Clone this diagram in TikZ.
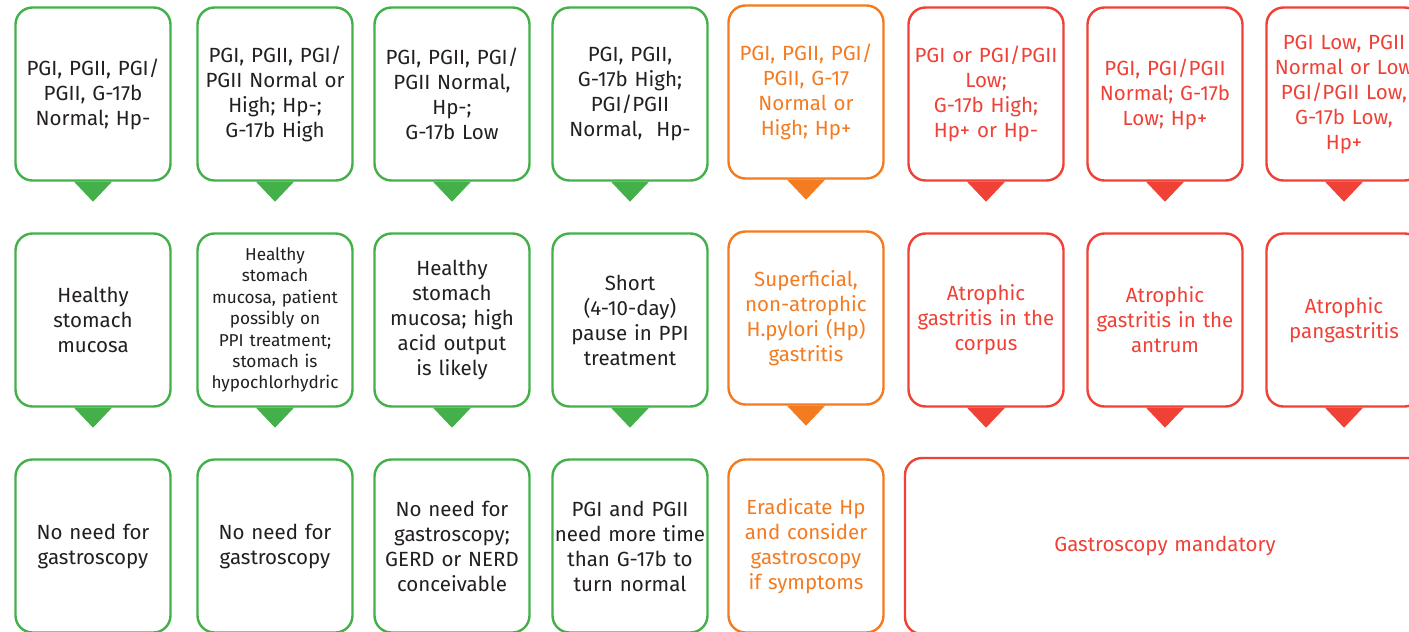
\documentclass[tikz,border=0pt]{standalone}
\usepackage{fontspec}
\setmainfont{Fira Sans}
\definecolor{cgreen}{HTML}{44B04A}
\definecolor{corange}{HTML}{F47B20}
\definecolor{cred}{HTML}{EF4136}
\definecolor{ctext}{HTML}{231F20}
\newcommand{\tip}[2]{\fill[#2] ([xshift=-19pt]#1.south) -- ([xshift=19pt]#1.south) -- ([yshift=-20pt]#1.south) -- cycle;}
\begin{document}
\begin{tikzpicture}[x=1pt,y=-1pt,
  card/.style={draw=#1, line width=2.4pt, rounded corners=17pt, minimum width=155pt,
    minimum height=173pt, text width=152pt, align=center, inner sep=0pt, fill=white,
    font=\fontsize{20.5}{25}\selectfont},
  gcard/.style={card=cgreen, text=ctext},
  ocard/.style={card=corange, text=corange},
  rcard/.style={card=cred, text=cred},
  small/.style={font=\fontsize{17.2}{21.4}\selectfont}
]
\useasboundingbox (0,0) rectangle (1409,632);
\clip (0,0) rectangle (1409,632);
\fill[white] (0,0) rectangle (1409,632);
% row 1
\node[gcard] (a1) at (93,94) {PGI, PGII, PGI/\\PGII, G-17b\\Normal; Hp-};
\node[gcard] (b1) at (275,94) {PGI, PGII, PGI/\\PGII Normal or\\High; Hp-;\\G-17b High};
\node[gcard] (c1) at (452,94) {PGI, PGII, PGI/\\PGII Normal,\\Hp-;\\G-17b Low};
\node[gcard] (d1) at (630,94) {PGI, PGII,\\G-17b High;\\PGI/PGII\\Normal,~ Hp-};
\node[ocard] (e1) at (806,92) {PGI, PGII, PGI/\\PGII, G-17\\Normal or\\High; Hp+};
\node[rcard] (f1) at (986,94) {PGI or PGI/PGII\\Low;\\G-17b High;\\Hp+ or Hp-};
\node[rcard] (g1) at (1165,94) {PGI, PGI/PGII\\Normal; G-17b\\Low; Hp+};
\node[rcard] (h1) at (1344,94) {PGI Low, PGII\\Normal or Low\\PGI/PGII Low,\\G-17b Low,\\Hp+};
% row 2
\node[gcard] (a2) at (93,320) {Healthy\\stomach\\mucosa};
\node[gcard,small] (b2) at (275,320) {Healthy\\stomach\\mucosa, patient\\possibly on\\PPI treatment;\\stomach is\\hypochlorhydric};
\node[gcard] (c2) at (452,320) {Healthy\\stomach\\mucosa; high\\acid output\\is likely};
\node[gcard] (d2) at (630,320) {Short\\(4-10-day)\\pause in PPI\\treatment};
\node[ocard] (e2) at (806,318) {Superficial,\\non-atrophic\\H.pylori (Hp)\\gastritis};
\node[rcard] (f2) at (986,320) {Atrophic\\gastritis in the\\corpus};
\node[rcard] (g2) at (1165,320) {Atrophic\\gastritis in the\\antrum};
\node[rcard] (h2) at (1344,320) {Atrophic\\pangastritis};
% row 3
\node[gcard] (a3) at (93,546) {No need for\\gastroscopy};
\node[gcard] (b3) at (275,546) {No need for\\gastroscopy};
\node[gcard] (c3) at (452,546) {No need for\\gastroscopy;\\GERD or NERD\\conceivable};
\node[gcard] (d3) at (630,546) {PGI and PGII\\need more time\\than G-17b to\\turn normal};
\node[ocard] (e3) at (806,546) {Eradicate Hp\\and consider\\gastroscopy\\if symptoms};
\node[rcard, minimum width=520pt, text width=500pt, minimum height=176pt] (f3) at (1165,546) {Gastroscopy mandatory};
% tips
\foreach \n in {a1,b1,c1,d1,a2,b2,c2,d2} {\tip{\n}{cgreen}}
\foreach \n in {e1,e2} {\tip{\n}{corange}}
\foreach \n in {f1,g1,h1,f2,g2,h2} {\tip{\n}{cred}}
\end{tikzpicture}
\end{document}
